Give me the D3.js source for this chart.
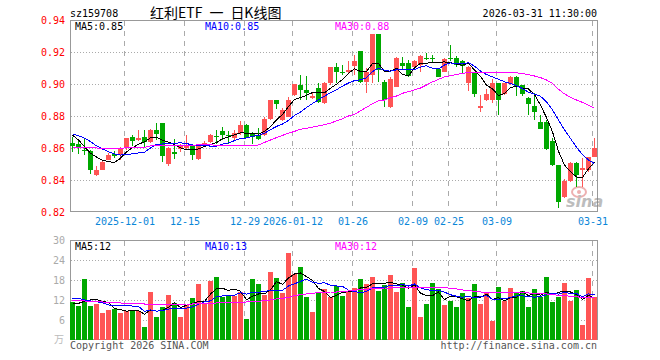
<!DOCTYPE html>
<html>
<head>
<meta charset="utf-8">
<script src="https://cdn.jsdelivr.net/npm/d3@7"></script>
<style>
  body { margin: 0; background: #fff; }
  svg { display: block; }
  text { font-family: "DejaVu Sans Mono", monospace; font-size: 10px; }
</style>
</head>
<body>
<svg id="chart" width="660" height="360"></svg>
<script>
// trading days shown (88)
const dates = [
  '2025-11-18','2025-11-19','2025-11-20','2025-11-21','2025-11-24','2025-11-25','2025-11-26','2025-11-27','2025-11-28',
  '2025-12-01','2025-12-02','2025-12-03','2025-12-04','2025-12-05',
  '2025-12-08','2025-12-09','2025-12-10','2025-12-11','2025-12-12',
  '2025-12-15','2025-12-16','2025-12-17','2025-12-18','2025-12-19',
  '2025-12-22','2025-12-23','2025-12-24','2025-12-25','2025-12-26',
  '2025-12-29','2025-12-30','2025-12-31',
  '2026-01-05','2026-01-06','2026-01-07','2026-01-08','2026-01-09',
  '2026-01-12','2026-01-13','2026-01-14','2026-01-15','2026-01-16',
  '2026-01-19','2026-01-20','2026-01-21','2026-01-22','2026-01-23',
  '2026-01-26','2026-01-27','2026-01-28','2026-01-29','2026-01-30',
  '2026-02-02','2026-02-03','2026-02-04','2026-02-05','2026-02-06',
  '2026-02-09','2026-02-10','2026-02-11','2026-02-12','2026-02-13',
  '2026-02-24','2026-02-25','2026-02-26','2026-02-27',
  '2026-03-02','2026-03-03','2026-03-04','2026-03-05','2026-03-06',
  '2026-03-09','2026-03-10','2026-03-11','2026-03-12','2026-03-13',
  '2026-03-16','2026-03-17','2026-03-18','2026-03-19','2026-03-20',
  '2026-03-23','2026-03-24','2026-03-25','2026-03-26','2026-03-27',
  '2026-03-30','2026-03-31'
];

const open = [
  .8631,.8625,.8585,.8583,.8433,.8465,.8525,.8563,.8558,.8606,
  .8667,.8648,.8667,.864,.8715,.8756,.85,.8575,.8592,.86,
  .8615,.8533,.8619,.8635,.8675,.8706,.8683,.8665,.8694,.8744,
  .8685,.8683,.8683,.8781,.89,.8775,.8796,.893,.8994,.8962,
  .8912,.8973,.8883,.9004,.9104,.9077,.9077,.9113,.9206,.9015,
  .9056,.9313,.9015,.8854,.8983,.9133,.9133,.9108,.912,.9165,
  .916,.9092,.9077,.916,.916,.9146,.9004,.907,.8848,.89,
  .89,.9004,.8938,.90,.9046,.8994,.8915,.8863,.8765,.8765,
  .8644,.8494,.8296,.8396,.8504,.8463,.846,.8546
];
const high = [
  .8667,.865,.8665,.8585,.849,.8523,.857,.8583,.8606,.8661,
  .868,.871,.8715,.8721,.8756,.8757,.8604,.8658,.8627,.8681,
  .8617,.8627,.8642,.8688,.871,.873,.8704,.871,.8767,.8748,
  .870,.8727,.8796,.8902,.8902,.8848,.8921,.90,.9056,.905,
  .8942,.9008,.9015,.9108,.9129,.9119,.9146,.9181,.9206,.9098,
  .9313,.9313,.9025,.9042,.9171,.9171,.915,.915,.918,.9196,
  .918,.9096,.916,.9244,.9175,.915,.9113,.907,.8931,.8967,
  .9029,.9004,.9008,.905,.905,.8994,.8921,.8942,.8806,.8775,
  .866,.8494,.8404,.8515,.8515,.8535,.8546,.8665
];
const low = [
  .8573,.856,.8558,.844,.8425,.8462,.8523,.8538,.8527,.859,
  .861,.8646,.8606,.8633,.8652,.851,.849,.8533,.8577,.8596,
  .8523,.8527,.8611,.8631,.8627,.8652,.8627,.8652,.8683,.866,
  .8625,.865,.8677,.8775,.8842,.8771,.8792,.8925,.89,.89,
  .8908,.888,.8875,.8994,.9008,.9056,.9067,.9056,.9008,.8946,
  .9008,.9015,.8854,.8848,.8979,.9094,.9046,.9098,.9077,.915,
  .9133,.9042,.9073,.9146,.9108,.9067,.8958,.8921,.8827,.8896,
  .8879,.8806,.8931,.8996,.8925,.8927,.8806,.8775,.8717,.8588,
  .8488,.8223,.8285,.839,.8358,.8358,.8452,.8546
];
const close = [
  .8615,.860,.8582,.846,.8465,.851,.8558,.8553,.8594,.866,
  .8646,.866,.8635,.8715,.8685,.8548,.8598,.856,.8613,.8621,
  .8558,.862,.8633,.8683,.8671,.8683,.8677,.8696,.8746,.8665,
  .867,.8656,.878,.89,.8875,.8838,.89,.90,.8963,.8946,
  .8925,.889,.9004,.9104,.9073,.9067,.9088,.9146,.9015,.9077,
  .9313,.9088,.89,.9029,.9165,.9113,.905,.9146,.9177,.9158,
  .9154,.9046,.9154,.9154,.9119,.9113,.9108,.894,.8862,.8935,
  .9004,.89,.9004,.9046,.8983,.8938,.8875,.8827,.8717,.8594,
  .8494,.8265,.8396,.8508,.843,.8477,.8546,.8598
];

// price moving averages as drawn
const ma5 = [
  .8681,.865,.8608,.8567,.8544,.8523,.8515,.8509,.8536,.8575,
  .8602,.8623,.8639,.8663,.8668,.8649,.8636,.8621,.8601,.8588,
  .859,.8594,.8609,.8623,.8633,.8658,.8669,.8682,.8695,.8693,
  .8691,.8687,.8703,.8734,.8776,.881,.8859,.8903,.8915,.8929,
  .8947,.8945,.8946,.8974,.8999,.9028,.9067,.9096,.9078,.9079,
  .9128,.9128,.9079,.9081,.9099,.9059,.9051,.9101,.913,.9129,
  .9137,.9136,.9138,.9133,.9125,.9117,.913,.9087,.9048,.8992,
  .897,.8928,.8941,.8978,.8987,.8974,.8969,.8934,.8868,.879,
  .8701,.858,.8493,.8451,.8419,.8415,.8471,.8512
];
const ma10 = [
  .8688,.8677,.8662,.864,.8613,.8594,.8577,.8563,.8556,.856,
  .8563,.8569,.8574,.86,.8622,.8625,.8629,.863,.8632,.8628,
  .8619,.8615,.8615,.8612,.8611,.8624,.8632,.8646,.8659,.8663,
  .8674,.8678,.8693,.8714,.8735,.875,.8773,.8803,.8825,.8853,
  .8878,.8902,.8924,.8945,.8964,.8987,.9006,.9021,.9026,.9039,
  .9078,.9098,.9087,.908,.9089,.9093,.909,.909,.9106,.9114,
  .9098,.9094,.9119,.9132,.9127,.9127,.9133,.9112,.9081,.9059,
  .9044,.9029,.9014,.9003,.899,.8972,.8949,.8937,.8923,.8889,
  .8838,.8774,.8714,.866,.8604,.8558,.8525,.8503
];
const ma30 = [
  .8604,.8604,.8604,.8604,.86,.8594,.8594,.8594,.8594,.8604,
  .8604,.8604,.8604,.8613,.8613,.8613,.8613,.8613,.8613,.8613,
  .8613,.8623,.8623,.8623,.8613,.8613,.8613,.8613,.8613,.8615,
  .8617,.8619,.8635,.865,.8665,.8679,.8692,.8704,.8717,.8723,
  .8731,.8738,.8746,.8756,.8769,.8783,.88,.881,.8833,.8854,
  .8877,.8894,.89,.8915,.8925,.8942,.8952,.8963,.8975,.8994,
  .9013,.9029,.9044,.9052,.906,.9067,.9071,.907,.907,.907,
  .907,.907,.907,.907,.907,.9065,.9058,.905,.904,.9025,
  .9004,.8967,.8938,.8917,.89,.8885,.8867,.8848
];

// volume (万手)
const volume = [
  11.5,10.2,18.3,10.2,10.8,8.2,9.0,9.2,8.2,8.7,
  9.0,8.8,4.0,14.5,7.0,10.0,13.5,11.2,7.0,10.4,
  12.7,16.7,11.2,17.8,18.9,13.0,13.5,13.2,14.5,6.2,
  18.3,16.8,13.5,20.5,18.5,14.2,26.2,19.7,22.0,13.0,
  8.5,14.0,15.2,13.0,16.2,13.2,14.7,15.7,18.3,16.8,
  18.9,14.7,16.5,19.5,14.5,17.2,9.9,21.7,6.9,10.8,
  17.2,15.3,10.5,11.8,9.9,14.1,12.7,16.8,10.8,14.4,
  5.7,15.9,11.8,15.6,14.4,14.7,9.9,15.3,12.9,18.9,
  11.4,12.9,17.1,11.7,15.0,4.5,18.6,12.9
];
const volMa5 = [
  11.0,11.0,11.6,12.0,12.2,11.54,11.3,9.48,9.08,8.66,
  8.82,8.78,7.74,9.0,8.66,8.86,9.8,11.24,9.74,10.42,
  10.96,11.6,11.6,13.76,15.46,15.52,14.88,15.28,14.62,12.08,
  13.14,13.8,13.86,15.06,17.52,16.7,18.58,19.82,20.12,19.02,
  17.88,15.44,14.54,12.74,13.38,14.32,14.46,14.56,15.62,15.74,
  16.88,16.88,17.04,17.28,16.82,16.48,15.52,16.56,14.04,13.3,
  13.3,14.38,12.14,13.12,12.94,12.32,11.8,13.06,12.86,13.76,
  12.08,12.72,11.72,12.68,12.68,14.48,13.28,13.98,13.44,14.34,
  13.68,14.28,14.64,14.4,13.62,12.24,13.38,12.54
];
const volMa10 = [
  12.3,12.5,12.0,11.7,11.5,11.2,10.5,10.4,10.4,10.43,
  10.18,10.04,8.61,9.04,8.66,8.84,9.29,9.49,9.37,9.54,
  9.91,10.7,11.42,11.75,12.94,13.24,13.24,13.44,14.19,13.77,
  14.33,14.34,14.57,14.84,14.8,14.92,16.19,16.84,17.59,18.27,
  17.29,17.01,17.18,16.43,16.2,16.1,14.95,14.55,14.18,14.56,
  15.6,15.67,15.8,16.45,16.28,16.68,16.2,16.8,15.66,15.06,
  14.89,14.95,14.35,13.58,13.12,12.81,13.09,12.6,12.99,13.35,
  12.2,12.26,12.39,12.77,13.22,13.28,13.0,12.85,13.06,13.51,
  14.08,13.78,14.31,13.92,13.98,12.96,13.83,13.59
];
const volMa30 = [
  11.95,11.8,11.7,11.6,11.5,11.4,11.3,11.2,11.1,11.0,
  11.0,10.9,10.8,10.8,10.8,10.8,10.8,10.8,10.7,10.8,
  10.8,11.0,11.0,11.0,11.1,11.2,11.2,11.2,11.3,11.4,
  11.5,11.6,11.8,12.0,12.3,12.5,12.8,13.3,13.6,13.8,
  14.0,14.2,14.3,14.4,14.4,14.5,14.7,14.9,15.1,15.2,
  15.4,15.5,15.6,15.6,15.7,15.7,15.8,15.8,15.8,15.8,
  15.8,15.7,15.7,15.5,15.3,15.0,14.8,14.6,14.4,14.3,
  14.3,14.2,14.2,14.2,14.2,14.2,14.1,14.0,13.9,13.8,
  13.6,13.4,13.3,13.1,13.0,12.7,12.8,12.9
];

// axis ticks and labels
const priceTicks = [0.94, 0.92, 0.90, 0.88, 0.86, 0.84, 0.82];
const volTicks = [30, 24, 18, 12, 6];
const tickDates = ['2025-12-01','2025-12-15','2025-12-29','2026-01-12','2026-01-26','2026-02-09','2026-02-25','2026-03-09','2026-03-31'];
const tickLabels = ['2025-12-01','12-15','12-29','2026-01-12','01-26','02-09','02-25','03-09','03-31'];
const priceLegend = ['MA5:0.85', 'MA10:0.85', 'MA30:0.88'];
const volLegend = ['MA5:12', 'MA10:13', 'MA30:12'];

const RED = '#ff5555', GREEN = '#00a800', GRID = '#aaaaaa', FRAME = '#999999';
const maColors = ['#000000', '#0000ff', '#ff00ff'];
const legendX = [75, 205, 335];

const svg = d3.select('#chart');
const left = 70, right = 598;
const price = { top: 20, bottom: 212 };
const vol = { top: 240, bottom: 340 };

const x = d3.scaleBand().domain(dates).range([left, right]);
const yP = d3.scaleLinear().domain([0.82, 0.94]).range([price.bottom, price.top]);
const yV = d3.scaleLinear().domain([0, 30]).range([vol.bottom, vol.top]);
const cx = d => x(d) + 2.5;
const isUp = i => close[i] >= open[i];

// header
svg.append('text').attr('x', 70).attr('y', 17).attr('fill', '#000').text('sz159708');
const title = svg.append('text').attr('x', 150).attr('y', 18)
  .style('font-family', '"Noto Sans CJK SC", sans-serif').style('font-size', '14px')
  .attr('fill', '#000');
title.append('tspan').text('红利ETF');
title.append('tspan').attr('dx', 7).text('一');
title.append('tspan').attr('dx', 7).text('日K线图');
svg.append('text').attr('x', 597).attr('y', 17).attr('text-anchor', 'end').attr('fill', '#000').text('2026-03-31 11:30:00');

// grid + frames
function panelGrid(top, bottom, yScale, ticks) {
  const g = svg.append('g');
  g.selectAll('line.h').data(ticks).enter().append('line')
    .attr('x1', left + 1).attr('x2', right - 1)
    .attr('y1', d => Math.round(yScale(d)) + 0.5).attr('y2', d => Math.round(yScale(d)) + 0.5)
    .attr('stroke', GRID).attr('stroke-dasharray', '1,2');
  g.selectAll('line.v').data(tickDates).enter().append('line')
    .attr('x1', d => x(d) + 0.5).attr('x2', d => x(d) + 0.5)
    .attr('y1', top + 1).attr('y2', bottom)
    .attr('stroke', GRID).attr('stroke-dasharray', '5,5');
  g.append('rect').attr('x', left + 0.5).attr('y', top + 0.5)
    .attr('width', right - left - 1).attr('height', bottom - top - 1)
    .attr('fill', 'none').attr('stroke', FRAME);
}
panelGrid(price.top, price.bottom, yP, [0.92, 0.90, 0.88, 0.86, 0.84]);
panelGrid(vol.top, vol.bottom, yV, [24, 18, 12, 6]);

// sina watermark
const wm = svg.append('g').attr('opacity', 0.55);
wm.append('ellipse').attr('cx', 579).attr('cy', 192).attr('rx', 7).attr('ry', 5)
  .attr('fill', 'none').attr('stroke', '#e07070').attr('stroke-width', 2);
wm.append('circle').attr('cx', 579).attr('cy', 192).attr('r', 2).attr('fill', '#e07070');
wm.append('text').attr('x', 566).attr('y', 207)
  .style('font-family', '"DejaVu Sans", sans-serif').style('font-size', '16px')
  .style('font-style', 'italic').style('font-weight', 'bold').attr('fill', '#888').text('sina');

// candles
const candles = svg.append('g').attr('shape-rendering', 'crispEdges');
candles.selectAll('rect.wick').data(dates).enter().append('rect')
  .attr('x', d => x(d) + 2).attr('width', 1)
  .attr('y', (d, i) => yP(high[i]))
  .attr('height', (d, i) => Math.max(1, yP(low[i]) - yP(high[i])))
  .attr('fill', (d, i) => isUp(i) ? RED : GREEN);
candles.selectAll('rect.body').data(dates).enter().append('rect')
  .attr('x', d => x(d)).attr('width', 5)
  .attr('y', (d, i) => yP(Math.max(open[i], close[i])))
  .attr('height', (d, i) => Math.max(1, Math.abs(yP(open[i]) - yP(close[i]))))
  .attr('fill', (d, i) => isUp(i) ? RED : GREEN);

// volume bars
svg.append('g').attr('shape-rendering', 'crispEdges')
  .selectAll('rect').data(volume).enter().append('rect')
  .attr('x', (d, i) => x(dates[i])).attr('width', 5)
  .attr('y', d => yV(d)).attr('height', d => vol.bottom - yV(d))
  .attr('fill', (d, i) => isUp(i) ? RED : GREEN);

// moving average lines
function maLine(values, yScale, color) {
  const line = d3.line().x((d, i) => cx(dates[i])).y(d => yScale(d));
  svg.append('path').datum(values).attr('d', line)
    .attr('fill', 'none').attr('stroke', color).attr('stroke-width', 1)
    .attr('shape-rendering', 'crispEdges');
}
[ma5, ma10, ma30].forEach((m, k) => maLine(m, yP, maColors[k]));
[volMa5, volMa10, volMa30].forEach((m, k) => maLine(m, yV, maColors[k]));

// legends
priceLegend.forEach((t, k) => svg.append('text').attr('x', legendX[k]).attr('y', 29.5).attr('fill', maColors[k]).text(t));
volLegend.forEach((t, k) => svg.append('text').attr('x', legendX[k]).attr('y', 250).attr('fill', maColors[k]).text(t));

// y axes
svg.append('g').attr('transform', 'translate(65,0)')
  .call(d3.axisLeft(yP).tickValues(priceTicks).tickFormat(d3.format('.2f')).tickSize(0).tickPadding(0))
  .call(g => g.select('.domain').remove())
  .call(g => g.selectAll('text').attr('fill', '#ff0000')
    .style('font-family', '"DejaVu Sans Mono", monospace').style('font-size', '10px'));
svg.append('g').attr('transform', 'translate(65,0)')
  .call(d3.axisLeft(yV).tickValues(volTicks).tickSize(0).tickPadding(0))
  .call(g => g.select('.domain').remove())
  .call(g => g.selectAll('text').attr('fill', '#aaaaaa')
    .style('font-family', '"DejaVu Sans Mono", monospace').style('font-size', '10px'));
svg.append('text').attr('x', 64).attr('y', 343).attr('text-anchor', 'end')
  .style('font-family', '"Noto Sans CJK SC", sans-serif').style('font-size', '10px')
  .attr('fill', '#bbbbbb').text('万');

// x axis (date labels)
svg.append('g').attr('transform', `translate(-2,${price.bottom})`)
  .call(d3.axisBottom(x).tickValues(tickDates).tickFormat((d, i) => tickLabels[i]).tickSize(0))
  .call(g => g.select('.domain').remove())
  .call(g => g.selectAll('text').attr('y', 13).attr('dy', null).attr('fill', '#0a86d8')
    .style('font-family', '"DejaVu Sans Mono", monospace').style('font-size', '10px'));

// footer
svg.append('text').attr('x', 70).attr('y', 349).attr('fill', '#555').text('Copyright 2026 SINA.COM');
svg.append('text').attr('x', 597).attr('y', 349).attr('text-anchor', 'end').attr('fill', '#555').text('http://finance.sina.com.cn');
</script>
</body>
</html>
